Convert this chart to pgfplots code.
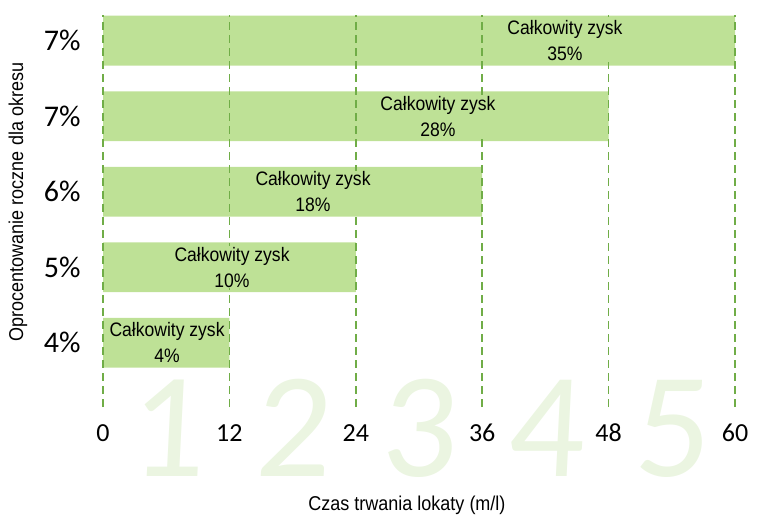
\documentclass[border=0pt]{standalone}
\usepackage{fontspec}
\setmainfont{Liberation Sans}
\newfontfamily\narrow[FakeStretch=0.9]{Liberation Sans}
\newfontfamily\carl{Carlito}
\newfontfamily\digitfont[FakeSlant=0.05]{Carlito}
\usepackage{pgfplots}
\pgfplotsset{compat=1.18}
\definecolor{barcol}{RGB}{190,225,150}
\definecolor{gridgreen}{RGB}{112,173,71}
\definecolor{digitcol}{RGB}{235,245,225}
\pgfplotstableread{
x y
12 1
24 2
36 3
48 4
60 5
}\bars
\begin{document}
\begin{tikzpicture}
\begin{axis}[name=ax, set layers, axis on top,
  scale only axis, width=632bp, height=392bp,
  xmin=0, xmax=60, ymin=0.15, ymax=5.34,
  xbar, bar width=0.66,
  axis line style={draw=none},
  tick style={draw=none},
  xtick={0,12,24,36,48,60}, xticklabels={0,12,24,36,48,60},
  ytick={1,2,3,4,5}, yticklabels={4\%,5\%,6\%,7\%,7\%},
  xticklabel style={font=\carl\fontsize{26bp}{30bp}\selectfont, anchor=north, inner sep=0pt, yshift=-17bp},
  yticklabel style={font=\carl\fontsize{30bp}{34bp}\selectfont, anchor=east, inner sep=0pt, xshift=-18bp},
  xmajorgrids, major grid style={draw=gridgreen, line width=1.7bp, dash pattern=on 8bp off 5bp},
  clip=false,
  xlabel={Czas trwania lokaty (m/l)},
  ylabel={Oprocentowanie roczne dla okresu},
  xlabel style={at={(axis description cs:0.481,-0.25)}, anchor=center, font=\narrow\fontsize{20bp}{24bp}\selectfont},
  ylabel style={at={(axis description cs:-0.1345,0.523)}, anchor=center, font=\narrow\fontsize{20bp}{24bp}\selectfont},
]
\addplot[fill=barcol, draw=none] table[x=x, y=y] {\bars};
\begin{pgfonlayer}{axis background}
\node[anchor=base, inner sep=0pt, text=digitcol, font=\digitfont\fontsize{150bp}{150bp}\selectfont] at (axis cs:6,-0.775) {1};
\node[anchor=base, inner sep=0pt, text=digitcol, font=\digitfont\fontsize{150bp}{150bp}\selectfont] at (axis cs:18,-0.775) {2};
\node[anchor=base, inner sep=0pt, text=digitcol, font=\digitfont\fontsize{150bp}{150bp}\selectfont] at (axis cs:30,-0.775) {3};
\node[anchor=base, inner sep=0pt, text=digitcol, font=\digitfont\fontsize{150bp}{150bp}\selectfont] at (axis cs:42,-0.775) {4};
\node[anchor=base, inner sep=0pt, text=digitcol, font=\digitfont\fontsize{150bp}{150bp}\selectfont] at (axis cs:54,-0.775) {5};
\end{pgfonlayer}
\begin{pgfonlayer}{axis foreground}
\node[fill=barcol, inner sep=1bp, align=center, font=\narrow\fontsize{19.5bp}{26bp}\selectfont] at (axis cs:6.08,1) {Całkowity zysk\\4\%};
\node[fill=barcol, inner sep=1bp, align=center, font=\narrow\fontsize{19.5bp}{26bp}\selectfont] at (axis cs:12.25,2) {Całkowity zysk\\10\%};
\node[fill=barcol, inner sep=1bp, align=center, font=\narrow\fontsize{19.5bp}{26bp}\selectfont] at (axis cs:19.94,3) {Całkowity zysk\\18\%};
\node[fill=barcol, inner sep=1bp, align=center, font=\narrow\fontsize{19.5bp}{26bp}\selectfont] at (axis cs:31.8,4) {Całkowity zysk\\28\%};
\node[fill=barcol, inner sep=1bp, align=center, font=\narrow\fontsize{19.5bp}{26bp}\selectfont] at (axis cs:43.86,5) {Całkowity zysk\\35\%};
\end{pgfonlayer}
\end{axis}
\pgfresetboundingbox
\path[use as bounding box] (ax.south west) ++(-103bp,-110bp) rectangle ++(763bp,517bp);
\end{tikzpicture}
\end{document}
